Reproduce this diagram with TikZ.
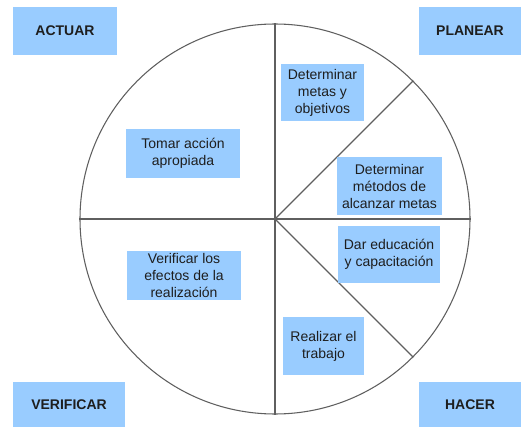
\documentclass[tikz,border=0pt]{standalone}
\usepackage{fontspec}
\setmainfont{Liberation Sans}
\definecolor{boxblue}{RGB}{153,204,255}
\definecolor{linegray}{RGB}{95,95,95}
\definecolor{textdark}{RGB}{30,30,30}
\begin{document}
\begin{tikzpicture}[x=0.75pt,y=-0.75pt,
            stage/.style={fill=boxblue, text=textdark, inner sep=0pt,
              font=\bfseries\fontsize{10.5}{12}\selectfont},
            task/.style={fill=boxblue, text=textdark, inner sep=0pt, align=center,
              font=\fontsize{10.5}{12.75}\selectfont},
            spoke/.style={draw=linegray, line width=0.8pt}]
            \useasboundingbox (0,0) rectangle (522,428);

            \node[spoke, circle, minimum size=292.5pt, inner sep=0pt] (wheel) at (275,219) {};
            \coordinate (hub) at (275,219);
            \draw[spoke] (wheel.north) -- (wheel.south);
            \draw[spoke] (wheel.west) -- (wheel.east);
            \draw[spoke] (hub) -- (wheel.45);
            \draw[spoke] (hub) -- (wheel.-45);

            \node[stage, minimum width=78pt, minimum height=36pt] (actuar) at (65,31) {ACTUAR};
            \node[stage, minimum width=76.5pt, minimum height=36pt] (planear) at (470,31) {PLANEAR};
            \node[stage, minimum width=84pt, minimum height=33.75pt] (verificar) at (69,404.5) {VERIFICAR};
            \node[stage, minimum width=76.5pt, minimum height=33.75pt] (hacer) at (470,404.5) {HACER};

            \node[task, minimum width=62.25pt, minimum height=42.75pt] (metas) at (322.5,92.5) {Determinar\\metas y\\objetivos};
            \node[task, minimum width=78.75pt, minimum height=43.5pt] (metodos) at (389.5,186) {Determinar\\métodos de\\alcanzar metas};
            \node[task, minimum width=76.5pt, minimum height=42.75pt] (educacion) at (389,254.5) {Dar educación\\y capacitación};
            \node[task, minimum width=60.75pt, minimum height=43.5pt] (trabajo) at (323.5,346) {Realizar el\\trabajo};
            \node[task, minimum width=85.5pt, minimum height=36.75pt] (accion) at (183,153.5) {Tomar acción\\apropiada};
            \node[task, minimum width=85.5pt, minimum height=36.75pt] (efectos) at (184,275.5) {Verificar los\\efectos de la\\realización};
          \end{tikzpicture}
\end{document}
